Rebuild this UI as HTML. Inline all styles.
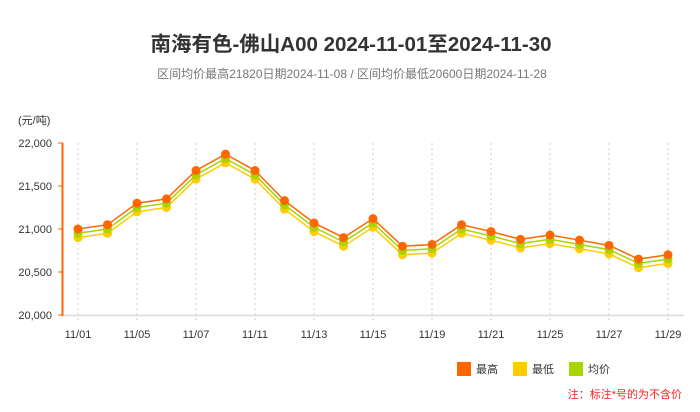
<!DOCTYPE html>
<html><head><meta charset="utf-8"><style>
body{margin:0;background:#fff;width:700px;height:407px;overflow:hidden;font-family:"Liberation Sans","Noto Sans CJK SC",sans-serif;}
</style></head><body>
<svg id="s" width="700" height="407" xmlns="http://www.w3.org/2000/svg" font-family="Liberation Sans, Noto Sans CJK SC, sans-serif">
<text x="351" y="51" text-anchor="middle" font-size="20.5" font-weight="bold" fill="#333">南海有色-佛山A00 2024-11-01至2024-11-30</text>
<text x="352" y="78" text-anchor="middle" font-size="12" fill="#777">区间均价最高21820日期2024-11-08 / 区间均价最低20600日期2024-11-28</text>
<text x="18" y="124" font-size="11" fill="#333">(元/吨)</text>
<g id="g"></g>
<rect x="457" y="362" width="14" height="14" fill="#ff6600"/><text x="476" y="373" font-size="11" fill="#333">最高</text>
<rect x="513" y="362" width="14" height="14" fill="#ffcc00"/><text x="532" y="373" font-size="11" fill="#333">最低</text>
<rect x="569" y="362" width="14" height="14" fill="#a8d400"/><text x="588" y="373" font-size="11" fill="#333">均价</text>
<text x="682" y="398" text-anchor="end" font-size="11" fill="#ff2222">注：标注*号的为不含价</text>
</svg>
<script>
var hi=[21000,21050,21300,21350,21680,21870,21680,21330,21070,20900,21120,20800,20820,21050,20970,20880,20930,20870,20810,20650,20700];
var d=["11/01","11/04","11/05","11/06","11/07","11/08","11/11","11/12","11/13","11/14","11/15","11/18","11/19","11/20","11/21","11/22","11/25","11/26","11/27","11/28","11/29"];
var X=function(i){return 78+i*29.5},Y=function(v){return 315-(v-20000)*0.086};
var h='';
for(var i=0;i<21;i+=2){h+='<line x1="'+X(i)+'" y1="143" x2="'+X(i)+'" y2="320" stroke="#ccc" stroke-dasharray="2,3"/>';
h+='<text x="'+X(i)+'" y="338" text-anchor="middle" font-size="11" fill="#333">'+d[i]+'</text>';}
h+='<line x1="62" y1="315.5" x2="684" y2="315.5" stroke="#ddd" stroke-width="1.5"/>';
h+='<line x1="62.5" y1="143" x2="62.5" y2="316" stroke="#ff6600" stroke-width="2"/>';
for(var k=0;k<5;k++){var v=20000+k*500,y=Y(v);h+='<line x1="58" y1="'+y+'" x2="63" y2="'+y+'" stroke="#ff6600"/>';
h+='<text x="52" y="'+(y+4)+'" text-anchor="end" font-size="11" fill="#333">'+(v+'').replace(/(\d\d)(\d{3})/,'$1,$2')+'</text>';}
[[100,'#ffcc00'],[50,'#a8d400'],[0,'#ff6600']].forEach(function(s){
var p=hi.map(function(v,i){return X(i)+','+Y(v-s[0])}).join(' ');
h+='<polyline points="'+p+'" fill="none" stroke="'+s[1]+'" stroke-width="1.5"/>';
hi.forEach(function(v,i){h+='<circle cx="'+X(i)+'" cy="'+Y(v-s[0])+'" r="4.5" fill="'+s[1]+'"/>';});});
document.getElementById('g').innerHTML=h;
</script>
</body></html>
